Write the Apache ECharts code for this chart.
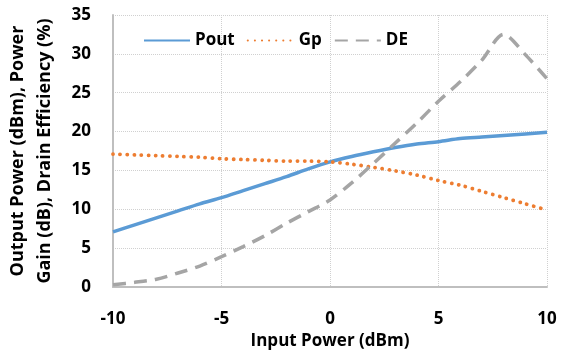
<!DOCTYPE html>
<html><head><meta charset="utf-8">
<script src="https://cdn.jsdelivr.net/npm/echarts@6/dist/echarts.min.js"></script>
<style>html,body{margin:0;padding:0;background:#fff}#c{width:561px;height:354px}</style>
</head><body><div id="c"></div>
<script>
const inputPower = [-10,-9,-8,-7,-6,-5,-4,-3,-2,-1,0,1,2,3,4,5,6,7,8,9,10];
const pout = [7.1,8.0,8.9,9.8,10.7,11.5,12.4,13.3,14.2,15.2,16.1,16.8,17.4,17.95,18.4,18.7,19.1,19.3,19.5,19.7,19.9];
const gp = [17.1,17.0,16.9,16.8,16.7,16.5,16.4,16.3,16.2,16.2,16.1,15.8,15.4,14.95,14.4,13.7,13.1,12.3,11.5,10.7,9.9];
const de = [0.3,0.6,1.0,1.8,2.7,3.9,5.2,6.6,8.2,9.7,11.2,13.4,15.9,18.5,21.1,23.9,26.4,29.2,32.5,29.9,26.8];
const yTicks = [0,5,10,15,20,25,30,35];

const F = '"Open Sans", "Liberation Sans", sans-serif';
const pair = a => inputPower.map((x,i)=>[x,a[i]]);
const chart = echarts.init(document.getElementById('c'));
chart.setOption({
  animation:false,
  textStyle:{fontFamily:F},
  grid:{left:113,right:14,top:15,bottom:67,containLabel:false,outerBoundsMode:'none'},
  legend:{
    top:27,left:138,itemGap:12,itemWidth:46,itemHeight:14,
    itemStyle:{opacity:0},
    textStyle:{fontFamily:F,fontWeight:'bold',fontSize:17,color:'#000'},
    data:['Pout','Gp','DE']
  },
  xAxis:{
    type:'value',min:-10,max:10,interval:5,
    name:'Input Power (dBm)',nameLocation:'middle',nameGap:46,
    nameTextStyle:{fontFamily:F,fontWeight:'bold',fontSize:17,color:'#000'},
    axisLine:{show:true,onZero:false,lineStyle:{color:'#bfbfbf',width:2}},
    axisTick:{show:false},
    axisLabel:{margin:24,fontFamily:F,fontWeight:'bold',fontSize:17,color:'#000'},
    splitLine:{show:true,lineStyle:{color:'#d0d0d0',type:'dotted',width:1}}
  },
  yAxis:{
    type:'value',min:yTicks[0],max:yTicks[yTicks.length-1],interval:5,
    name:'Output Power (dBm), Power\nGain (dB), Drain Efficiency (%)',
    nameLocation:'middle',nameGap:55,nameRotate:90,
    nameTextStyle:{fontFamily:F,fontWeight:'bold',fontSize:18,color:'#000',lineHeight:27},
    axisLine:{show:true,onZero:false,lineStyle:{color:'#bfbfbf',width:2}},
    axisTick:{show:false},
    axisLabel:{margin:22,fontFamily:F,fontWeight:'bold',fontSize:17,color:'#000'},
    splitLine:{show:true,lineStyle:{color:'#d0d0d0',type:'dotted',width:1}}
  },
  series:[
    {name:'Pout',type:'line',data:pair(pout),smooth:0.3,showSymbol:false,symbol:'none',
     lineStyle:{color:'#5B9BD5',width:3.5},itemStyle:{color:'#5B9BD5'}},
    {name:'Gp',type:'line',data:pair(gp),smooth:0.3,showSymbol:false,symbol:'none',
     lineStyle:{color:'#ED7D31',width:3.8,type:[0.1,7],cap:'round'},itemStyle:{color:'#ED7D31'}},
    {name:'DE',type:'line',data:pair(de),smooth:0.3,showSymbol:false,symbol:'none',
     lineStyle:{color:'#A5A5A5',width:3.5,type:[13,8]},itemStyle:{color:'#A5A5A5'}}
  ]
});
</script></body></html>
